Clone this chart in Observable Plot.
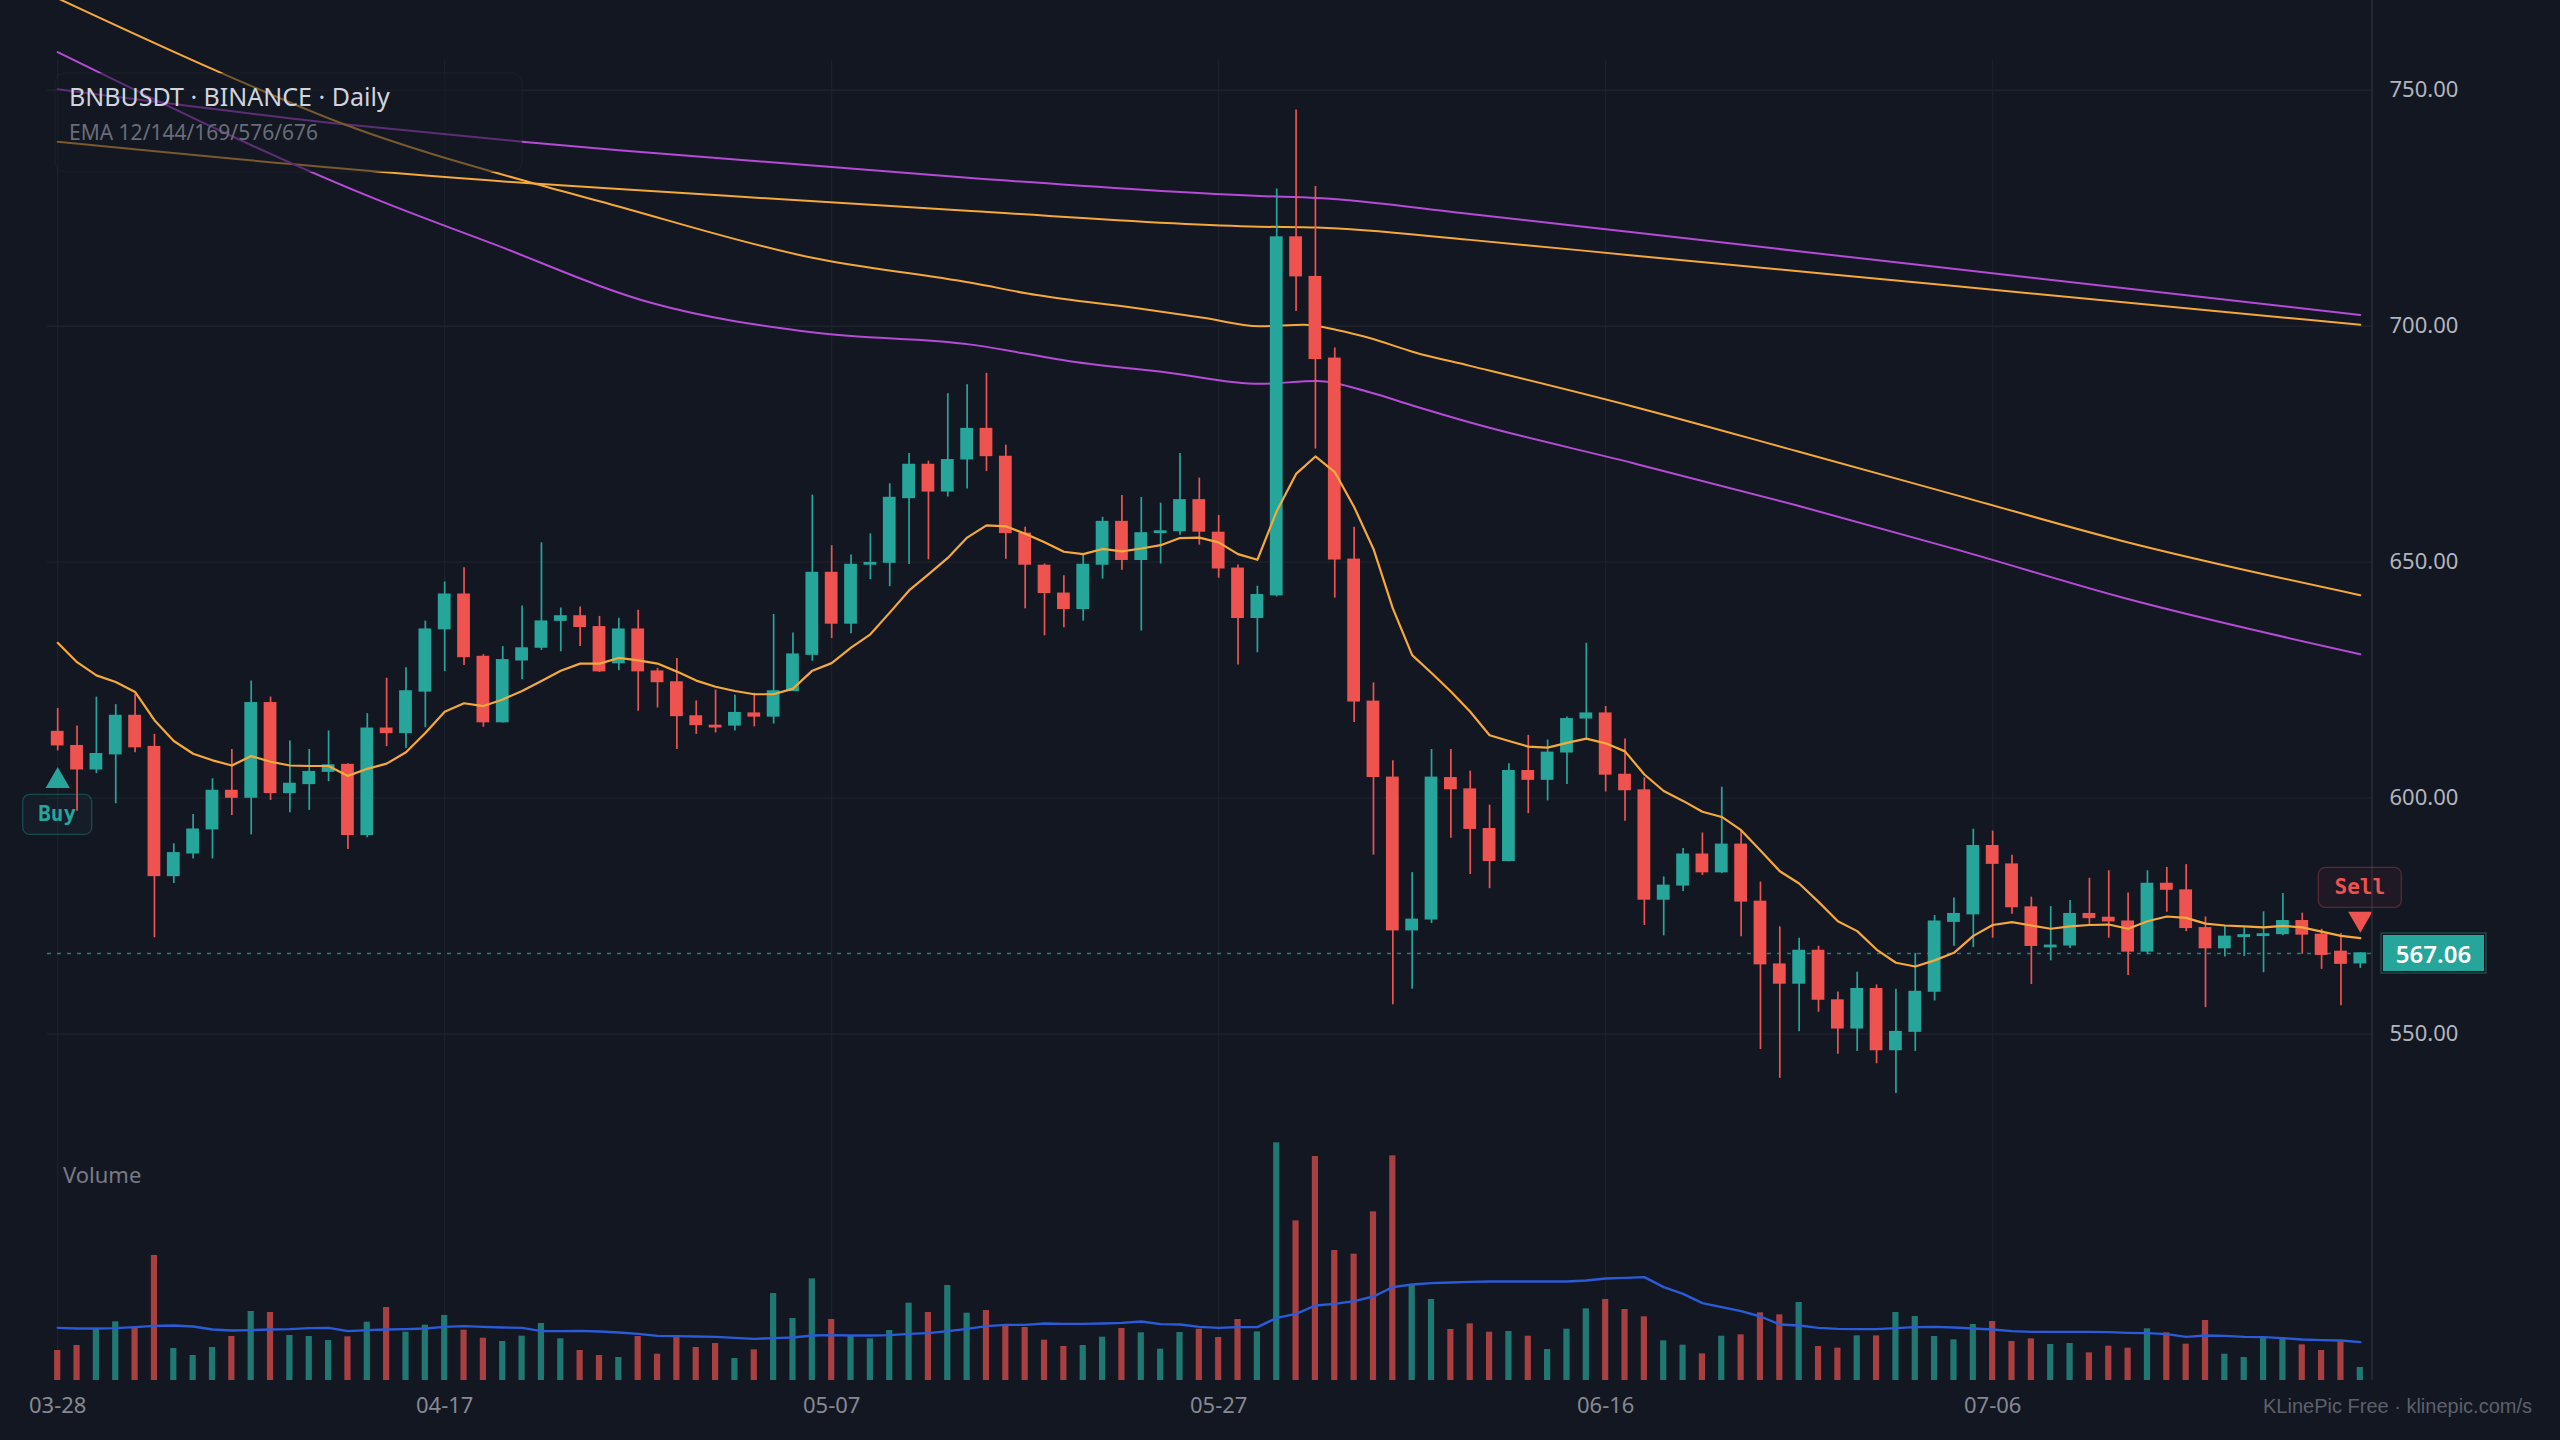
<!DOCTYPE html>
<html><head><meta charset="utf-8">
<script src="https://cdn.jsdelivr.net/npm/d3@7"></script>
<script src="https://cdn.jsdelivr.net/npm/@observablehq/plot@0.6"></script>
<style>
html,body{margin:0;padding:0;background:#131722;}
#wrap{position:relative;width:2560px;height:1440px;overflow:hidden;background:#131722;}
#wrap svg{position:absolute;left:0;top:0;}
</style></head><body><div id="wrap"></div>
<script>
// ---------- data ----------
const tickIdx = [0, 20, 40, 60, 80, 100];
const tickLabels = ["03-28", "04-17", "05-07", "05-27", "06-16", "07-06"];
const priceTicks = [550, 600, 650, 700, 750];

const open = [614.0,611.0,606.1,609.3,617.4,610.8,583.5,588.3,593.4,601.5,
600.1,620.1,601.1,603.0,605.6,607.0,592.2,614.7,613.8,622.6,
635.8,643.1,629.9,616.1,629.2,631.9,637.6,638.5,636.2,628.6,
635.7,626.8,624.5,617.3,615.3,615.4,617.9,617.3,622.7,630.4,
647.7,637.0,649.5,649.9,663.6,670.6,665.0,671.8,678.2,672.3,
656.0,649.2,643.3,640.1,649.5,658.5,650.5,656.2,656.6,663.1,
656.2,648.6,638.2,643.0,718.8,710.4,693.1,650.5,620.4,604.3,
572.0,574.3,604.2,601.8,593.4,586.7,605.7,603.9,609.7,616.9,
617.9,604.9,601.6,578.5,581.5,588.0,584.3,590.1,578.0,564.7,
560.7,567.6,557.1,551.2,559.5,546.6,550.5,559.0,573.8,575.4,
589.8,585.9,576.8,568.4,568.8,575.4,574.6,573.8,567.5,581.8,
580.4,572.4,568.2,570.6,570.8,571.2,573.9,571.0,567.4,565.0];
const high = [619.0,615.3,621.4,619.8,622.0,613.5,590.3,596.5,604.1,610.3,
624.8,621.4,612.1,610.3,614.2,607.3,617.9,625.4,627.6,637.5,
645.8,648.8,630.4,632.1,640.7,654.1,640.3,640.5,638.5,638.1,
639.8,627.5,629.6,620.6,622.9,621.8,622.2,638.9,635.0,664.2,
653.5,651.5,656.0,666.6,673.0,671.4,685.7,687.6,690.0,674.8,
657.4,649.6,647.1,651.7,659.5,664.1,663.7,662.5,673.0,667.8,
659.9,649.4,644.9,729.1,745.8,729.6,695.4,657.4,624.4,607.9,
584.2,610.3,610.3,605.7,598.5,607.3,613.3,612.3,617.2,632.8,
619.4,612.5,604.3,583.3,589.3,592.6,602.3,592.9,582.2,572.7,
570.3,568.6,558.9,563.1,560.4,559.5,567.1,575.1,578.8,593.4,
593.0,587.9,579.0,577.0,578.3,583.0,584.6,579.9,584.6,585.3,
585.9,574.8,572.8,572.5,575.9,579.8,575.6,572.2,571.3,567.2];
const low = [610.0,597.2,605.2,598.8,609.6,570.4,581.9,587.1,587.1,596.3,
592.2,599.5,596.9,597.4,603.5,589.1,591.6,610.9,610.5,614.9,
626.8,628.1,615.0,615.9,625.1,631.3,631.0,632.1,626.6,627.0,
618.4,619.1,610.3,613.5,613.8,614.2,615.1,615.7,622.6,629.0,
633.8,634.8,646.3,644.8,649.5,650.5,663.8,665.5,669.2,650.6,
640.1,634.4,636.1,637.5,646.4,648.3,635.4,649.6,655.7,653.6,
646.6,628.2,630.8,642.6,703.1,674.0,642.4,616.0,587.9,556.2,
559.5,573.4,591.5,583.8,580.8,586.5,596.7,599.4,602.9,612.6,
601.3,595.1,573.0,570.8,580.2,583.6,584.0,570.6,546.7,540.6,
550.5,554.6,545.7,546.3,543.7,537.4,546.3,557.0,568.6,568.3,
570.3,575.4,560.5,565.5,568.1,573.2,570.3,562.4,566.8,575.8,
571.7,555.6,566.3,566.4,563.0,570.8,566.9,563.7,556.0,563.9];
const close = [611.2,606.1,609.3,617.4,610.8,583.5,588.3,593.3,601.5,600.1,
620.1,601.1,603.0,605.5,606.9,592.2,614.7,613.8,622.6,635.7,
643.1,629.9,616.1,629.2,631.7,637.4,638.5,636.3,626.9,635.7,
626.9,624.6,617.4,615.5,615.0,618.0,617.3,622.6,630.4,647.7,
637.0,649.4,649.8,663.6,670.6,665.0,671.6,678.2,672.5,656.2,
649.5,643.5,640.1,649.4,658.5,650.5,656.1,656.5,663.1,656.5,
648.7,638.2,643.0,718.8,710.6,693.1,650.6,620.5,604.5,572.0,
574.2,604.3,601.9,593.5,586.7,605.7,603.9,609.6,616.7,617.9,
605.0,601.7,578.5,581.4,588.0,584.3,590.1,578.1,564.8,560.7,
567.6,557.3,551.2,559.5,546.6,550.4,558.9,573.8,575.4,589.8,
586.1,576.9,568.7,568.7,575.4,574.6,573.9,567.5,581.8,580.6,
572.5,568.2,570.6,570.9,571.1,573.9,571.1,566.8,564.9,567.06];
const ema12 = [632.9,628.8,626.0,624.6,622.5,616.5,612.1,609.4,608.0,606.9,
608.9,607.7,606.9,606.8,606.8,604.7,606.2,607.3,609.7,613.8,
618.3,620.1,619.5,620.9,622.7,624.8,627.0,628.5,628.5,629.7,
629.2,628.5,626.8,624.9,623.6,622.7,622.0,622.0,623.2,627.0,
628.6,631.9,634.7,639.3,644.0,647.4,650.9,655.2,657.8,657.6,
656.0,654.2,652.2,651.7,652.8,652.3,652.9,653.6,655.1,655.2,
654.2,651.7,650.5,660.8,668.7,672.4,669.1,661.7,652.8,640.2,
630.3,626.5,622.6,618.3,613.3,612.1,610.9,610.7,611.7,612.6,
611.6,609.9,605.0,601.5,599.4,597.1,596.0,593.2,588.9,584.5,
581.9,578.0,573.9,571.8,567.9,565.1,564.3,565.6,567.2,570.8,
573.1,573.7,573.0,572.3,572.8,573.1,573.2,572.3,573.9,574.9,
574.6,573.4,573.0,572.8,572.6,572.9,572.6,571.7,570.8,570.3];
// long EMAs, sampled (candle index, value)
const ema144Idx = [0,16.7,22.4,30.8,39.2,47.2,52.3,57.5,62.1,65.1,67.8,70.1,73,81.4,89.9,98.3,106.7,119];
const ema144Val = [758.1,726.5,717.6,704.8,698.6,696.1,692.6,690.1,687.8,688.4,686.0,683.1,679.6,671.0,662.0,652.5,642.5,630.5];
const ema169Idx = [0,8.5,14.8,24.4,28,39,47.2,50.6,55.8,59.2,62.1,64.4,66.1,67.8,70.1,73,81.4,89.9,98.3,106.7,119];
const ema169Val = [769.5,753.6,742.8,730.5,726.5,714.5,709.2,706.6,703.8,701.8,700.0,700.3,699.2,697.5,694.5,691.6,683.0,673.5,664.0,654.5,643.0];
const ema576Idx = [0,24.4,29,47.2,62.1,65.1,73,81.4,98.3,119];
const ema576Val = [739.1,730.3,729.1,724.4,721.1,720.9,718.3,715.0,708.4,700.3];
const ema676Idx = [0,14.8,24,29,47.2,62.1,65.1,73,81.4,98.3,119];
const ema676Val = [750.2,742.8,739.1,737.3,731.4,727.6,727.2,723.8,719.9,712.0,702.4];
const volume = [90,105,155,176,159,375,96,75,99,132,
207,204,135,132,120,131,175,219,145,166,
195,151,127,117,133,171,125,90,75,69,
132,79,129,99,111,66,92,261,186,305,
183,135,125,150,232,204,285,202,210,164,
159,121,102,105,130,156,143,94,144,154,
129,183,146,713,479,672,390,379,506,674,
287,243,153,170,145,147,133,93,154,215,
243,213,191,119,106,80,133,137,203,197,
234,102,97,134,134,204,192,132,122,168,
177,117,125,108,111,83,103,97,155,143,
109,180,79,69,130,128,107,90,120,39];
const volMA = [158,156,156,157,160,164,165,162,153,150,
151,153,154,157,158,148,151,153,154,156,
161,163,161,159,158,148,148,149,147,144,
140,134,133,132,131,128,125,127,129,135,
136,135,135,136,140,142,148,155,163,167,
167,171,170,170,171,173,177,169,168,161,
158,160,160,188,200,225,230,238,252,280,
288,292,294,296,297,297,297,297,297,300,
306,308,310,280,260,232,220,208,192,168,
165,158,155,154,154,157,160,161,159,156,
153,148,146,146,146,146,145,143,142,139,
131,135,134,131,130,127,123,121,120,115];
const signalIdx = [0, 119];
const signalKind = ["Buy", "Sell"];

// ---------- styling ----------
const W = 2560, H = 1440;
const UP = "#26a69a", DN = "#ef5350", BG = "#131722", GRID = "#1e222d";
const YEL = "#f5a93a", PUR = "#b54bd6";
const xDomain = [-0.527, 119.63];
const FONT = "'Noto Sans', 'DejaVu Sans', sans-serif";

const candles = d3.range(open.length).map(i => ({
  i, o: open[i], h: high[i], l: low[i], c: close[i], col: close[i] >= open[i] ? UP : DN, v: volume[i]
}));
const idx = candles.map(d => d.i);
const longLine = (ix, vals) => ix.map((x, k) => ({x, y: vals[k]}));

// ---------- volume panel ----------
const vol = Plot.plot({
  width: W, height: H,
  marginLeft: 47, marginRight: 188, marginTop: 60, marginBottom: 60,
  x: {domain: xDomain, axis: null},
  y: {domain: [0, 3960], axis: null},
  style: {background: "transparent", maxWidth: "none", fontFamily: FONT, fontSize: "22px", color: "#868993"},
  marks: [
    Plot.ruleX(tickIdx, {x: d => d, stroke: GRID, strokeWidth: 1.2}),
    Plot.rect(candles, {x1: d => d.i - 0.16, x2: d => d.i + 0.16, y1: 0, y2: "v", fill: "col", fillOpacity: 0.68}),
    Plot.line(idx, {x: d => d, y: d => volMA[d], stroke: "#2a5bd8", strokeWidth: 2.4}),
    Plot.axisX({ticks: tickIdx, tickFormat: d => tickLabels[tickIdx.indexOf(d)], tickSize: 0, tickPadding: 17, fill: "#868993", fontSize: 22})
  ]
});

// ---------- price panel ----------
const price = Plot.plot({
  width: W, height: H,
  marginLeft: 47, marginRight: 188, marginTop: 89.8, marginBottom: H - 1033.5,
  x: {domain: xDomain, axis: null},
  y: {domain: [550, 750], axis: null},
  style: {background: "transparent", maxWidth: "none", fontFamily: FONT, fontSize: "22px", color: "#b2b5be"},
  marks: [
    Plot.ruleY(priceTicks, {y: d => d, stroke: GRID, strokeWidth: 1.4}),
    Plot.axisY({anchor: "right", ticks: priceTicks, tickFormat: d => d.toFixed(2), tickSize: 0, tickPadding: 17, fill: "#b2b5be", fontSize: 22}),
    Plot.ruleY([close[close.length - 1]], {y: d => d, stroke: UP, strokeDasharray: "4,6", strokeWidth: 1.5, strokeOpacity: 0.75}),
    Plot.line(longLine(ema676Idx, ema676Val), {x: "x", y: "y", stroke: PUR, strokeWidth: 2, curve: "monotone-x"}),
    Plot.line(longLine(ema576Idx, ema576Val), {x: "x", y: "y", stroke: YEL, strokeWidth: 2, curve: "monotone-x"}),
    Plot.line(longLine(ema169Idx, ema169Val), {x: "x", y: "y", stroke: YEL, strokeWidth: 2, curve: "monotone-x"}),
    Plot.line(longLine(ema144Idx, ema144Val), {x: "x", y: "y", stroke: PUR, strokeWidth: 2, curve: "monotone-x"}),
    Plot.ruleX(candles, {x: "i", y1: "l", y2: "h", stroke: "col", strokeWidth: 1.7}),
    Plot.rect(candles, {x1: d => d.i - 0.33, x2: d => d.i + 0.33, y1: "o", y2: "c", fill: "col", insetTop: -0.7, insetBottom: -0.7}),
    Plot.line(idx, {x: d => d, y: d => ema12[d], stroke: YEL, strokeWidth: 2.2}),
    Plot.dot([signalIdx[0]], {x: d => d, y: d => low[d], dy: 30, symbol: "triangle", r: 9, fill: UP}),
    Plot.dot([signalIdx[1]], {x: d => d, y: d => high[d], dy: -34, symbol: "triangle", rotate: 180, r: 9, fill: DN})
  ]
});

const wrap = document.getElementById("wrap");
wrap.appendChild(vol);
wrap.appendChild(price);

// ---------- overlay (labels) ----------
const xs = price.scale("x"), ys = price.scale("y");
const ov = d3.select(wrap).append("svg").attr("width", W).attr("height", H);
const right = xs.range[1];
ov.append("line").attr("x1", right).attr("x2", right).attr("y1", 0).attr("y2", 1380)
  .attr("stroke", "#2a2e39").attr("stroke-width", 1.5);

// header box
ov.append("rect").attr("x", 55).attr("y", 73).attr("width", 467).attr("height", 99).attr("rx", 10)
  .attr("fill", "rgba(19,23,34,0.55)").attr("stroke", "rgba(255,255,255,0.04)");
ov.append("text").attr("x", 69).attr("y", 106).attr("fill", "#d1d4dc")
  .style("font-family", FONT).style("font-size", "25px").text("BNBUSDT · BINANCE · Daily");
ov.append("text").attr("x", 69).attr("y", 140).attr("fill", "#6a6d78")
  .style("font-family", FONT).style("font-size", "21px").text("EMA 12/144/169/576/676");

// volume label
ov.append("text").attr("x", 63).attr("y", 1183).attr("fill", "#787b86")
  .style("font-family", FONT).style("font-size", "22px").text("Volume");

// watermark
ov.append("text").attr("x", 2532).attr("y", 1413).attr("text-anchor", "end").attr("fill", "#5d606b")
  .style("font-family", "'Liberation Sans', Arial, sans-serif").style("font-size", "20px").text("KLinePic Free · klinepic.com/s");

// buy / sell boxes
signalIdx.forEach((i, k) => {
  const kind = signalKind[k];
  const isBuy = kind === "Buy";
  const cx = xs.apply(i);
  const cy = isBuy ? ys.apply(low[i]) + 64 : ys.apply(high[i]) - 65;
  const w = isBuy ? 69 : 83, h = 40;
  const col = isBuy ? UP : DN;
  ov.append("rect").attr("x", cx - w / 2).attr("y", cy - h / 2).attr("width", w).attr("height", h).attr("rx", 7)
    .attr("fill", isBuy ? "rgba(38,166,154,0.05)" : "rgba(239,83,80,0.05)")
    .attr("stroke", isBuy ? "rgba(38,166,154,0.35)" : "rgba(239,83,80,0.3)").attr("stroke-width", 1.3);
  ov.append("text").attr("x", cx).attr("y", cy).attr("text-anchor", "middle").attr("dominant-baseline", "central")
    .attr("fill", col).style("font-family", "'DejaVu Sans Mono', monospace").style("font-size", "21px")
    .style("font-weight", "bold").text(kind);
});

// last price label
const lastC = close[close.length - 1];
const ly = ys.apply(lastC);
ov.append("rect").attr("x", 2381).attr("y", ly - 20).attr("width", 105).attr("height", 40)
  .attr("fill", "none").attr("stroke", "rgba(38,166,154,0.35)").attr("stroke-width", 1.5);
ov.append("rect").attr("x", 2383).attr("y", ly - 18).attr("width", 101).attr("height", 36).attr("fill", UP);
ov.append("text").attr("x", 2433.5).attr("y", ly).attr("text-anchor", "middle").attr("dominant-baseline", "central")
  .attr("fill", "#ffffff").style("font-family", FONT).style("font-size", "24px").style("font-weight", "600")
  .text(lastC.toFixed(2));
</script>
</body></html>
